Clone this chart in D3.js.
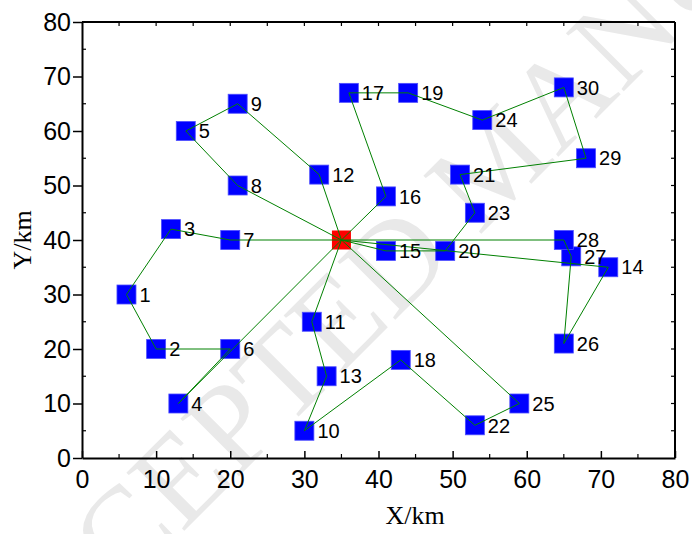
<!DOCTYPE html>
<html>
<head>
<meta charset="utf-8">
<script src="https://cdn.jsdelivr.net/npm/d3@7"></script>
<style>
  body { margin: 0; background: #fff; }
  svg { display: block; }
</style>
</head>
<body>
<svg id="chart"></svg>
<script>
// Customer ids and coordinates (km)
const customerIds = [1, 2, 3, 4, 5, 6, 7, 8, 9, 10,
    11, 12, 13, 14, 15, 16, 17, 18, 19, 20,
    21, 22, 23, 24, 25, 26, 27, 28, 29, 30];
const customerX = [6, 10, 12, 13, 14, 20, 20, 21, 21, 30,
    31, 32, 33, 71, 41, 41, 36, 43, 44, 49,
    51, 53, 53, 54, 59, 65, 66, 65, 68, 65];
const customerY = [30, 20, 42, 10, 60, 20, 40, 50, 65, 5,
    25, 52, 15, 35, 38, 48, 67, 18, 67, 38,
    52, 6, 45, 62, 10, 21, 37, 40, 55, 68];

// Depot (id 0)
const depotX = 35;
const depotY = 40;

// Vehicle routes, 0 = depot
const routes = [
    [0, 7, 3, 1, 2, 6, 4, 0],
    [0, 8, 5, 9, 12, 0],
    [0, 11, 13, 10, 18, 22, 25, 0],
    [0, 16, 17, 19, 24, 30, 29, 21, 23, 20, 15, 0],
    [0, 28, 27, 26, 14, 0]
];

const xTicks = [0, 10, 20, 30, 40, 50, 60, 70, 80];
const yTicks = [0, 10, 20, 30, 40, 50, 60, 70, 80];

const W = 692, H = 534;
const margin = { top: 22, right: 17, bottom: 76, left: 82 };
const width = W - margin.left - margin.right;
const height = H - margin.top - margin.bottom;

const svg = d3.select("#chart").attr("width", W).attr("height", H);

// watermark
svg.append("text")
    .attr("transform", "translate(0,715) rotate(-45)")
    .attr("font-family", "Liberation Serif, Times New Roman, serif")
    .attr("font-size", 125)
    .attr("fill", "#e9e9e9")
    .text("ACCEPTED MANUSCRIPT");

const g = svg.append("g").attr("transform", `translate(${margin.left},${margin.top})`);

const x = d3.scaleLinear().domain([0, 80]).range([0, width]);
const y = d3.scaleLinear().domain([0, 80]).range([height, 0]);

// lookup of node coordinates
const nodes = new Map();
nodes.set(0, [depotX, depotY]);
customerIds.forEach((id, i) => nodes.set(id, [customerX[i], customerY[i]]));

const minor = d3.range(5, 80, 10);

// Bottom axis (ticks inward)
const xAxis = g.append("g")
    .attr("transform", `translate(0,${height})`)
    .call(d3.axisBottom(x).tickValues(xTicks).tickSizeInner(-7).tickSizeOuter(0).tickPadding(12));
xAxis.selectAll("text").attr("font-size", 25).attr("font-family", "Liberation Sans, Arial, sans-serif").attr("fill", "#000");

// Left axis (major ticks outward)
const yAxis = g.append("g")
    .call(d3.axisLeft(y).tickValues(yTicks).tickSizeInner(9).tickSizeOuter(0).tickPadding(2));
yAxis.selectAll("text").attr("font-size", 25).attr("font-family", "Liberation Sans, Arial, sans-serif").attr("fill", "#000");

[xAxis, yAxis].forEach(a => {
    a.select(".domain").attr("stroke", "#000").attr("stroke-width", 2);
    a.selectAll(".tick line").attr("stroke", "#000").attr("stroke-width", 1.5);
});

// minor ticks + top/right frame ticks
const frame = g.append("g").attr("stroke", "#000").attr("stroke-width", 1.2);
frame.selectAll(".mx").data(minor).enter().append("line")
    .attr("x1", d => x(d)).attr("x2", d => x(d)).attr("y1", height).attr("y2", height - 4);
frame.selectAll(".my").data(minor).enter().append("line")
    .attr("y1", d => y(d)).attr("y2", d => y(d)).attr("x1", 0).attr("x2", 4);
const allTicks = d3.range(5, 80, 5);
frame.selectAll(".tx").data(allTicks).enter().append("line")
    .attr("x1", d => x(d)).attr("x2", d => x(d)).attr("y1", 0).attr("y2", 4);
frame.selectAll(".ry").data(allTicks).enter().append("line")
    .attr("y1", d => y(d)).attr("y2", d => y(d)).attr("x1", width).attr("x2", width - 4);

// top and right frame lines
g.append("line").attr("x1", 0).attr("x2", width).attr("y1", 0).attr("y2", 0)
    .attr("stroke", "#000").attr("stroke-width", 2);
g.append("line").attr("x1", width).attr("x2", width).attr("y1", 0).attr("y2", height)
    .attr("stroke", "#000").attr("stroke-width", 2);

// Axis titles
svg.append("text")
    .attr("x", 415).attr("y", 524)
    .attr("text-anchor", "middle")
    .attr("font-family", "Liberation Serif, Times New Roman, serif")
    .attr("font-size", 26)
    .text("X/km");
svg.append("text")
    .attr("transform", `translate(31,${margin.top + height / 2}) rotate(-90)`)
    .attr("text-anchor", "middle")
    .attr("font-family", "Liberation Serif, Times New Roman, serif")
    .attr("font-size", 26)
    .text("Y/km");

const sq = 19;

// customer squares
g.selectAll(".cust").data(customerIds).enter().append("rect")
    .attr("x", (d, i) => x(customerX[i]) - sq / 2)
    .attr("y", (d, i) => y(customerY[i]) - sq / 2)
    .attr("width", sq).attr("height", sq)
    .attr("fill", "#0000ff")
    .attr("stroke", "#4d4dff").attr("stroke-width", 0.8);

// depot
g.append("rect")
    .attr("x", x(depotX) - sq / 2).attr("y", y(depotY) - sq / 2)
    .attr("width", sq).attr("height", sq)
    .attr("fill", "#ff0000");

// route lines drawn over the markers
const line = d3.line().x(d => x(nodes.get(d)[0])).y(d => y(nodes.get(d)[1]));
g.selectAll(".route").data(routes).enter().append("path")
    .attr("d", line)
    .attr("fill", "none")
    .attr("stroke", "#008000")
    .attr("stroke-width", 1);

// labels
g.selectAll(".lab").data(customerIds).enter().append("text")
    .attr("x", (d, i) => x(customerX[i]) + 13)
    .attr("y", (d, i) => y(customerY[i]))
    .attr("dy", "0.36em")
    .attr("font-family", "Liberation Sans, Arial, sans-serif")
    .attr("font-size", 20)
    .text(d => d);
</script>
</body>
</html>
